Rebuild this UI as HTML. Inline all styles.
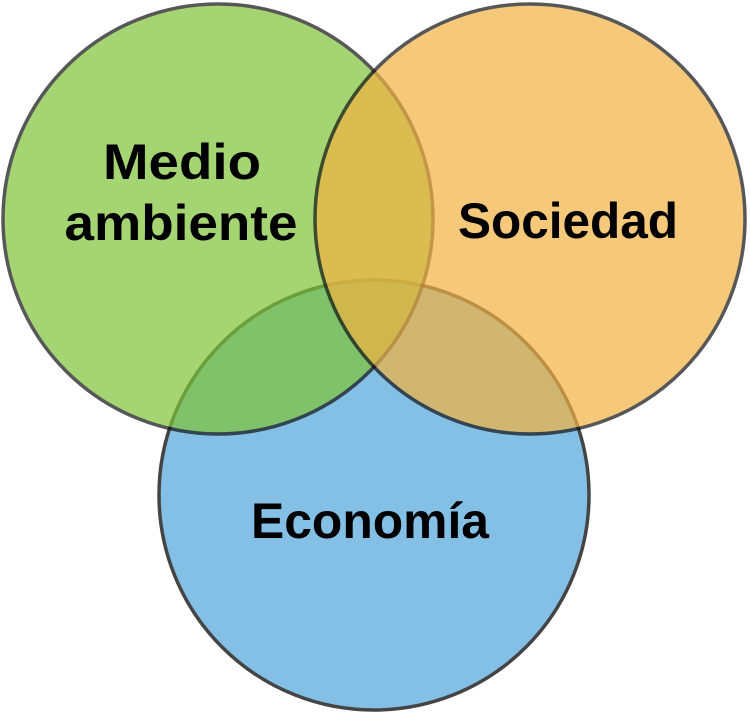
<!DOCTYPE html>
<html><head><meta charset="utf-8"><style>html,body{margin:0;padding:0;background:#fff}svg{display:block}</style></head>
<body>
<svg width="750" height="715" viewBox="0 0 750 715" xmlns="http://www.w3.org/2000/svg">
<circle cx="374" cy="495" r="215" fill="#84c0e6" stroke="#444" stroke-width="3.5"/>
<g opacity="0.7"><circle cx="218" cy="219" r="215" fill="#7ec437" stroke="#111" stroke-width="3.5"/></g>
<g opacity="0.7"><circle cx="530" cy="219" r="215" fill="#f2b242" stroke="#111" stroke-width="3.5"/></g>
<g font-family="Liberation Sans, sans-serif" font-weight="bold" font-size="50" fill="#000" text-anchor="middle">
<text x="182" y="179" textLength="158" lengthAdjust="spacingAndGlyphs">Medio</text>
<text x="181" y="240" textLength="233" lengthAdjust="spacingAndGlyphs">ambiente</text>
<text x="568" y="238" textLength="220" lengthAdjust="spacingAndGlyphs">Sociedad</text>
<text x="370" y="538" textLength="238" lengthAdjust="spacingAndGlyphs">Economía</text>
</g>
</svg>
</body></html>
